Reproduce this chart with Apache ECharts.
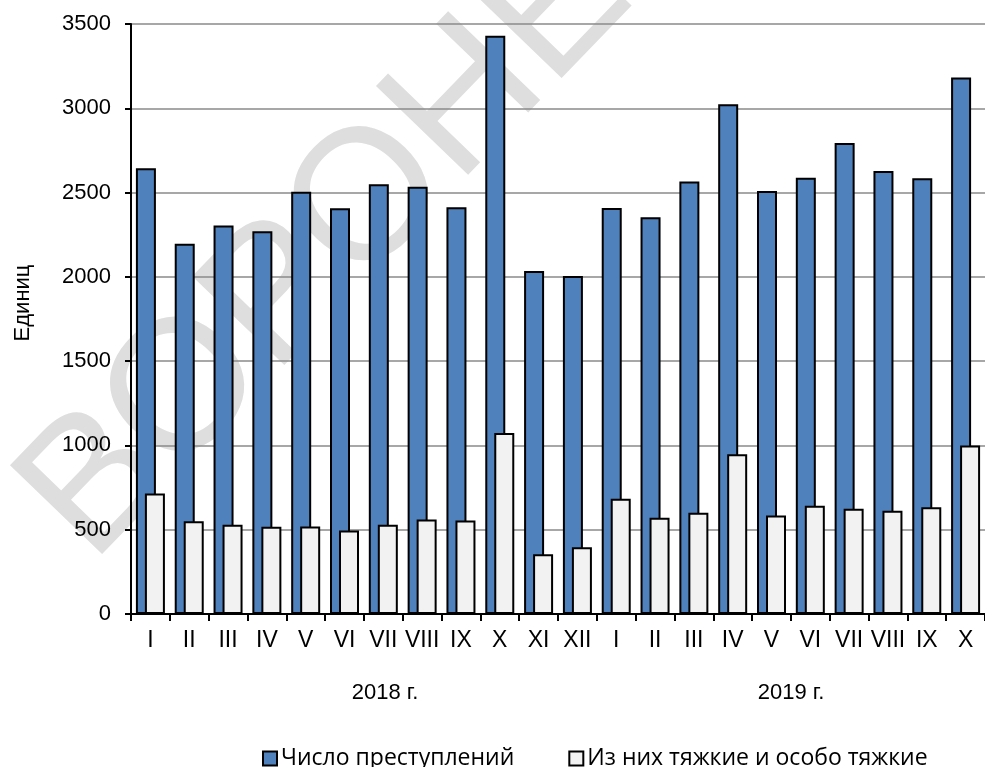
<!DOCTYPE html>
<html>
<head>
<meta charset="utf-8">
<script src="https://cdn.jsdelivr.net/npm/echarts@6/dist/echarts.min.js"></script>
<style>
html,body{margin:0;padding:0;background:#fff;}
#chart{width:985px;height:767px;}
</style>
</head>
<body>
<div id="chart"></div>
<script>
var categories = ['I','II','III','IV','V','VI','VII','VIII','IX','X','XI','XII','I','II','III','IV','V','VI','VII','VIII','IX','X'];
var totalCrimes = [2645,2197,2304,2270,2505,2407,2549,2535,2413,3431,2035,2005,2408,2353,2565,3024,2509,2588,2794,2628,2585,3182];
var seriousCrimes = [715,550,529,517,519,495,529,560,555,1073,354,396,683,571,600,947,584,642,624,612,633,1000];
var yearLabels = ['2018 г.','2019 г.'];
var seriesNames = ['Число преступлений','Из них тяжкие и особо тяжкие'];
var yAxisTitle = 'Единиц';
var watermark = 'ВОРОНЕЖ';

var chart = echarts.init(document.getElementById('chart'));
var font = 'Liberation Sans, Arial, sans-serif';
chart.setOption({
  animation: false,
  backgroundColor: '#ffffff',
  grid: {left: 131, top: 24, bottom: 153, right: -13, containLabel: false},
  xAxis: {
    type: 'category',
    data: categories,
    axisLine: {lineStyle: {color: '#000', width: 2}},
    axisTick: {show: true, length: 7, lineStyle: {color: '#000', width: 2}},
    axisLabel: {color: '#000', fontFamily: font, fontSize: 23, margin: 15, interval: 0},
    splitLine: {show: false}
  },
  yAxis: {
    type: 'value',
    min: 0, max: 3500, interval: 500,
    axisLine: {show: true, lineStyle: {color: '#000', width: 2}},
    axisTick: {show: true, length: 6, lineStyle: {color: '#000', width: 2}},
    axisLabel: {color: '#000', fontFamily: font, fontSize: 22, margin: 20,
                formatter: function (v) { return String(v); }},
    splitLine: {show: true, lineStyle: {color: '#8a8a8a', width: 1.5}}
  },
  legend: {
    left: 257, top: 742,
    itemWidth: 14, itemHeight: 14, itemGap: 54,
    icon: 'rect',
    textStyle: {color: '#000', fontFamily: 'Open Sans, sans-serif', fontSize: 23, padding: [0,0,0,-1]},
    data: seriesNames
  },
  series: [
    {name: seriesNames[0], type: 'bar', data: totalCrimes, barWidth: 20, barGap: '-55%',
     itemStyle: {color: '#4f81bd', borderColor: '#000', borderWidth: 2}},
    {name: seriesNames[1], type: 'bar', data: seriousCrimes, barWidth: 20,
     itemStyle: {color: '#f2f2f2', borderColor: '#000', borderWidth: 2}}
  ],
  graphic: [
    {type: 'text', z: -10, x: 387, y: 185, rotation: 46 * Math.PI / 180,
     style: {text: watermark, font: '186px Liberation Sans', fill: '#dedede', textAlign: 'center', textVerticalAlign: 'middle'}},
    {type: 'text', x: 23, y: 303, rotation: Math.PI/2,
     style: {text: yAxisTitle, font: '22px Liberation Sans', fill: '#000', textAlign: 'center', textVerticalAlign: 'middle'}},
    {type: 'text', x: 385, y: 693,
     style: {text: yearLabels[0], font: '22px Liberation Sans', fill: '#000', textAlign: 'center', textVerticalAlign: 'middle'}},
    {type: 'text', x: 791, y: 693,
     style: {text: yearLabels[1], font: '22px Liberation Sans', fill: '#000', textAlign: 'center', textVerticalAlign: 'middle'}}
  ]
});
</script>
</body>
</html>
